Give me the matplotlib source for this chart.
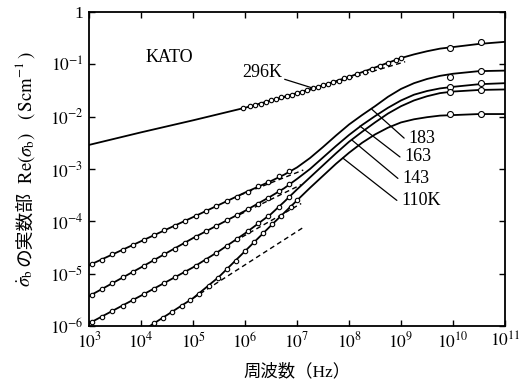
import matplotlib
matplotlib.use("Agg")
import matplotlib.pyplot as plt
import numpy as np

plt.rcParams['font.family'] = ['Liberation Serif', 'Noto Sans CJK JP', 'DejaVu Sans']
plt.rcParams['mathtext.fontset'] = 'stix'

# all values are log10(frequency / Hz) and log10(sigma / S cm^-1)
# solid curves
k296_x = [3, 4, 5, 6, 7, 7.5, 8, 8.25, 8.5, 9, 9.25, 9.5, 9.75, 10, 10.5, 11]
k296_y = [-2.54, -2.30, -2.07, -1.83, -1.55, -1.40, -1.24, -1.15, -1.06, -0.88, -0.81,
          -0.75, -0.70, -0.67, -0.61, -0.57]
k183_x = [3, 4, 5, 6, 6.5, 6.75, 7, 7.25, 7.5, 7.75, 8, 8.25, 8.5, 8.75, 9, 9.25, 9.5,
          9.75, 10, 10.5, 11]
k183_y = [-4.84, -4.38, -3.92, -3.45, -3.23, -3.11, -2.97, -2.79, -2.58, -2.36, -2.15,
          -1.97, -1.80, -1.62, -1.47, -1.36, -1.28, -1.22, -1.18, -1.13, -1.12]
k163_x = [3, 4, 5, 6, 6.5, 6.75, 7, 7.25, 7.5, 7.75, 8, 8.25, 8.5, 8.75, 9, 9.25, 9.5,
          9.75, 10, 10.5, 11]
k163_y = [-5.43, -4.88, -4.32, -3.80, -3.52, -3.37, -3.19, -3.00, -2.78, -2.56, -2.35,
          -2.16, -1.99, -1.83, -1.69, -1.58, -1.51, -1.46, -1.43, -1.38, -1.36]
k143_x = [3, 4, 5, 5.5, 6, 6.5, 6.75, 7, 7.25, 7.5, 7.75, 8, 8.25, 8.5, 8.75, 9, 9.25,
          9.5, 9.75, 10, 10.5, 11]
k143_y = [-5.95, -5.42, -4.88, -4.57, -4.23, -3.86, -3.63, -3.39, -3.16, -2.93, -2.70,
          -2.48, -2.29, -2.11, -1.94, -1.80, -1.69, -1.61, -1.55, -1.52, -1.49, -1.48]
k110_x = [4.17, 4.5, 5, 5.5, 6, 6.5, 7, 7.25, 7.5, 7.75, 8, 8.25, 8.5, 8.75, 9, 9.25,
          9.5, 9.75, 10, 10.5, 11]
k110_y = [-6.0, -5.79, -5.47, -5.06, -4.57, -4.08, -3.60, -3.36, -3.13, -2.90, -2.69,
          -2.50, -2.34, -2.21, -2.11, -2.05, -2.01, -1.98, -1.97, -1.95, -1.95]

# dashed low-frequency power laws
d296_x, d296_y = [6.6, 9.08], [-1.68, -0.95]
d183_x, d183_y = [5.9, 7.12], [-3.50, -3.02]
d163_x, d163_y = [5.9, 7.08], [-3.87, -3.30]
d143_x, d143_y = [5.8, 7.08], [-4.38, -3.66]
d110_x, d110_y = [5.0, 7.1], [-5.47, -4.13]

# measured points (small circles)
m296_x = [5.96, 6.1, 6.2, 6.3, 6.4, 6.5, 6.6, 6.7, 6.8, 6.9, 7.0, 7.1, 7.2, 7.3, 7.4,
          7.5, 7.6, 7.7, 7.8, 7.9, 8.0, 8.15, 8.3, 8.45, 8.6, 8.75, 8.9, 9.0]
m296_y = [-1.84, -1.80, -1.77, -1.75, -1.72, -1.69, -1.66, -1.63, -1.61, -1.58, -1.55,
          -1.52, -1.49, -1.46, -1.43, -1.40, -1.37, -1.34, -1.31, -1.27, -1.24, -1.19,
          -1.14, -1.08, -1.03, -0.97, -0.92, -0.88]
m_lo_x = [3.05, 3.25, 3.45, 3.65, 3.85, 4.05, 4.25, 4.45, 4.65, 4.85,
          5.05, 5.25, 5.45, 5.65, 5.85, 6.05, 6.25, 6.45, 6.65, 6.85]
m183_y = [-4.82, -4.73, -4.63, -4.54, -4.45, -4.36, -4.27, -4.17, -4.08, -3.99,
          -3.90, -3.81, -3.71, -3.62, -3.53, -3.43, -3.33, -3.24, -3.14, -3.04]
m163_y = [-5.40, -5.29, -5.18, -5.07, -4.96, -4.85, -4.74, -4.63, -4.52, -4.41,
          -4.29, -4.19, -4.08, -3.97, -3.87, -3.77, -3.66, -3.55, -3.42, -3.29]
m143_y = [-5.92, -5.82, -5.71, -5.61, -5.50, -5.39, -5.29, -5.18, -5.07, -4.96,
          -4.85, -4.73, -4.60, -4.47, -4.33, -4.19, -4.04, -3.89, -3.72, -3.53]
m110_x = [4.25, 4.42, 4.6, 4.78, 4.95, 5.12, 5.3, 5.48, 5.65, 5.82, 6.0, 6.18, 6.35,
          6.52, 6.7, 6.88, 7.0]
m110_y = [-5.95, -5.84, -5.73, -5.61, -5.50, -5.38, -5.23, -5.08, -4.92, -4.75, -4.57,
          -4.40, -4.23, -4.06, -3.89, -3.72, -3.60]

# microwave points (larger circles)
hf_x = [9.94, 10.54]
hf296_y = [-0.68, -0.57]
hf183_y = [-1.24, -1.12]
hf163_y = [-1.44, -1.36]
hf143_y = [-1.52, -1.49]
hf110_y = [-1.95, -1.95]

xticks = [3, 4, 5, 6, 7, 8, 9, 10, 11]
xticklabels = ['$10^{%d}$' % t for t in xticks]
yticks = [-6, -5, -4, -3, -2, -1, 0]
yticklabels = ['$10^{%d}$' % t for t in yticks[:-1]] + ['1']

# y label pieces, bottom to top
ylabel_parts = [r'$\dot{\sigma}_{\rm b}$', 'の実数部',
                r'$\ \mathrm{Re}(\sigma_{\rm b})\ \ \ (\,\mathrm{Scm}^{-1}\,)$']


def p(v):
    return 10.0 ** np.array(v)


fig = plt.figure(figsize=(5.32, 3.82), dpi=100)
ax = fig.add_axes([0.1673, 0.1466, 0.782, 0.822])
ax.set_xscale('log')
ax.set_yscale('log')

for cx, cy in [(k296_x, k296_y), (k183_x, k183_y), (k163_x, k163_y),
               (k143_x, k143_y), (k110_x, k110_y)]:
    ax.plot(p(cx), p(cy), color='black', lw=1.3, solid_joinstyle='round')

for dx, dy in [(d296_x, d296_y), (d183_x, d183_y), (d163_x, d163_y),
               (d143_x, d143_y), (d110_x, d110_y)]:
    ax.plot(p(dx), p(dy), color='black', lw=1.0, ls=(0, (3.5, 2.5)))

mk = dict(ls='none', marker='o', mfc='white', mec='black', mew=0.8, ms=3.2, zorder=3)
ax.plot(p(m296_x), p(m296_y), **mk)
ax.plot(p(m_lo_x), p(m183_y), **mk)
ax.plot(p(m_lo_x), p(m163_y), **mk)
ax.plot(p(m_lo_x), p(m143_y), **mk)
ax.plot(p(m110_x), p(m110_y), **mk)

mk_big = dict(mk, ms=4.3)
for hy in [hf296_y, hf183_y, hf163_y, hf143_y, hf110_y]:
    ax.plot(p(hf_x), p(hy), **mk_big)

ax.set_xlim(1e3, 1e11)
ax.set_ylim(1e-6, 1)
ax.set_xticks(p(xticks))
ax.set_xticklabels(xticklabels)
ax.set_yticks(p(yticks))
ax.set_yticklabels(yticklabels)
ax.minorticks_off()
ax.tick_params(which='major', direction='in', length=4, width=1.0,
               top=True, right=True, labelsize=12.5, pad=4)
for s in ax.spines.values():
    s.set_linewidth(1.3)

# labels on the curves
ax.text(10**4.08, 10**-0.86, 'KATO', fontsize=13, ha='left', va='center')
lead = dict(arrowstyle='-', color='black', lw=0.9, shrinkA=0, shrinkB=0)
ax.annotate('296K', xy=(10**7.29, 10**-1.45), xytext=(10**5.94, 10**-1.15),
            fontsize=13, ha='left', va='center', arrowprops=lead)
for lab, (x0, y0), (x1, y1) in [('183', (8.44, -1.86), (9.06, -2.41)),
                                ('163', (8.21, -2.18), (8.98, -2.77)),
                                ('143', (8.06, -2.45), (8.94, -3.18)),
                                ('110K', (7.88, -2.79), (8.92, -3.60))]:
    ax.annotate('', xy=(10**x0, 10**y0), xytext=(10**x1, 10**y1), arrowprops=lead)
    ax.text(10**(x1 + 0.08), 10**y1, lab, fontsize=13, ha='left', va='center')

ax.set_xlabel('周波数（Hz）', fontsize=12.5, labelpad=9)

# y label built from pieces so the Japanese part gets a CJK font
fig.canvas.draw()
renderer = fig.canvas.get_renderer()
texts = []
for i, s in enumerate(ylabel_parts):
    fam = ['Noto Sans CJK JP'] if i == 1 else ['Liberation Serif']
    texts.append(fig.text(0, 0, s, rotation=90, fontsize=13.5, family=fam,
                          ha='center', va='bottom'))
heights = [t.get_window_extent(renderer).height for t in texts]
gap = 3
total = sum(heights) + gap * (len(heights) - 1)
ycen = (0.1466 + 0.822 / 2) * fig.bbox.height
ypos = ycen - total / 2
for t, h in zip(texts, heights):
    t.set_position((25 / fig.bbox.width, ypos / fig.bbox.height))
    ypos += h + gap

fig.savefig('out.png', dpi=100)
